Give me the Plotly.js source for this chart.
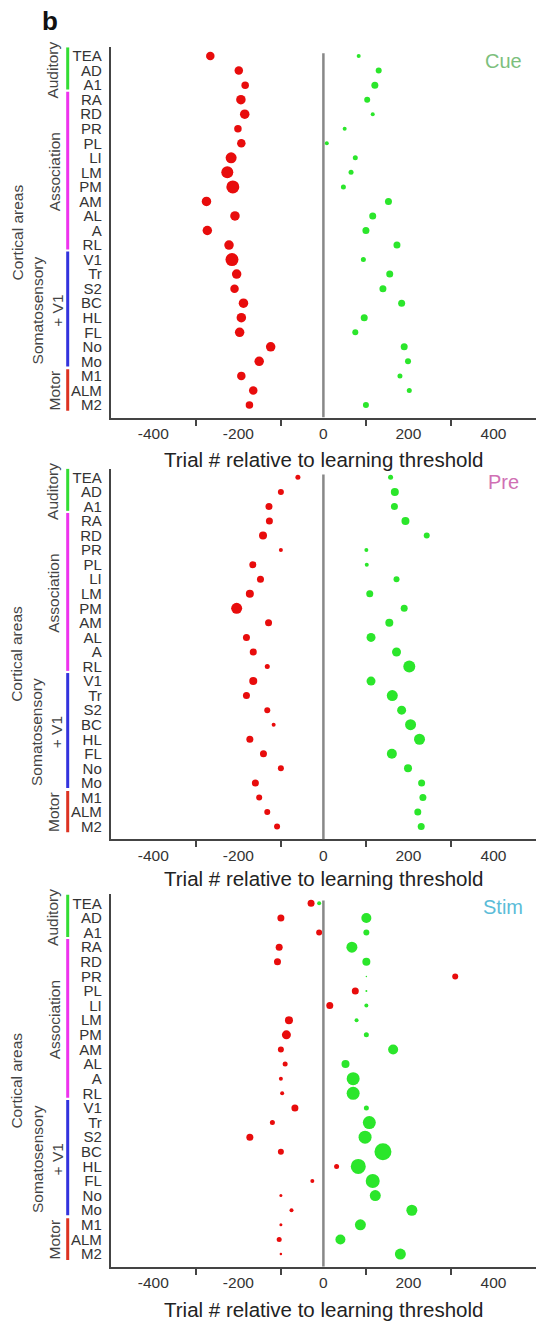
<!DOCTYPE html>
<html>
<head>
<meta charset="utf-8">
<script src="https://cdn.plot.ly/plotly-3.0.1.min.js"></script>
<style>
  html, body { margin: 0; padding: 0; background: #fff; }
  #chart { width: 536px; height: 1322px; }
</style>
</head>
<body>
<div id="chart"></div>
<script>
// ---------- DATA ----------
const areas = ['TEA','AD','A1','RA','RD','PR','PL','LI','LM','PM','AM','AL','A','RL','V1','Tr','S2','BC','HL','FL','No','Mo','M1','ALM','M2'];

// Cue panel
const cueRedX    = [-266,-199,-184,-194,-185,-201,-193,-217,-226,-213,-275,-208,-273,-222,-215,-204,-209,-188,-193,-197,-124,-151,-193,-165,-174];
const cueRedSize = [8.5,8.5,7.5,9.5,9.5,7.5,8.5,11,12,13,9.5,9.5,9.5,9.5,13,9.5,8.5,9.5,9.5,9.5,9.5,9.5,8.5,8.5,7.5];
const cueGreenX    = [83,130,121,103,116,50,8,75,65,47,153,116,100,173,94,156,140,184,96,75,190,199,180,202,100];
const cueGreenSize = [4,6,7,6,4,4,4,5,5,5,7,7,7,7,5,7,7,7,7,6,7,6,5,5,6];

// Pre panel
const preRedX    = [-60,-100,-128,-127,-142,-100,-166,-148,-173,-204,-129,-181,-165,-132,-165,-181,-132,-117,-173,-141,-100,-160,-151,-132,-109];
const preRedSize = [5,6,7,7,8,4,7,7,8,11,7,7,7,5,8,7,6,4,7,7,6,7,6,6,6];
const preGreenX    = [158,168,167,193,243,101,102,172,109,190,155,112,172,202,112,162,184,205,226,161,199,231,234,222,230];
const preGreenSize = [5,8,7,8,6,4,4,6,7,7,8,9,9,12,9,11,9,11,11,10,8,7,7,7,7];

// Stim panel
const stimRedX    = [-29,-100,-10,-104,-108,310,75,15,-81,-87,-100,-90,-100,-97,-67,-120,-173,-100,31,-26,-100,-75,-100,-104,-100];
const stimRedSize = [7,7,6,7,7,6,7,7,8,9,6,5,4,4,7,5,7,6,5,4,3,4,3,5,2.5];
const stimGreenX    = [-10,101,101,67,101,101,101,101,78,101,164,52,70,70,101,108,98,140,82,116,122,208,87,40,181];
const stimGreenSize = [4,10,6,11,8,1.5,2,4,4,5,10,8,13,13,5,13,13,17,15,14,11,11,11,10,11];

const groups = [
  {name: 'Auditory',            from: -0.6, to: 2.3,   center: 1,    color: '#33dd33', x: 53},
  {name: 'Association',         from: 2.45, to: 13.3,  center: 8,    color: '#ee33ee', x: 54},
  {name: 'Somatosensory<br>+ V1', from: 13.45, to: 21.35, center: 17.5, color: '#3333dd', x: 47},
  {name: 'Motor',               from: 21.55, to: 24.4, center: 23,   color: '#dd3322', x: 54}
];

const panels = [
  {label: 'Cue',  labelColor: '#7dbf7d', redX: cueRedX,  redS: cueRedSize,  grX: cueGreenX,  grS: cueGreenSize,  top: 47.2,  bottom: 417.6,  titleY: 459,  labelY: 60.7},
  {label: 'Pre',  labelColor: '#d070b4', redX: preRedX,  redS: preRedSize,  grX: preGreenX,  grS: preGreenSize,  top: 468.5, bottom: 839.2,  titleY: 879,  labelY: 481.7},
  {label: 'Stim', labelColor: '#5bbcd8', redX: stimRedX, redS: stimRedSize, grX: stimGreenX, grS: stimGreenSize, top: 894.4, bottom: 1266.8, titleY: 1309, labelY: 906.7}
];

// ---------- LAYOUT ----------
const W = 536, H = 1322;
const FONT = 'Liberation Sans, Arial, sans-serif';
const RED = '#e80c0c', GREEN = '#2be62b';
const yRange = [24.87, -0.61];

const traces = [];
const layout = {
  width: W, height: H,
  margin: {l: 0, r: 0, t: 0, b: 0},
  paper_bgcolor: '#ffffff', plot_bgcolor: '#ffffff',
  showlegend: false,
  font: {family: FONT, color: '#333'},
  shapes: [], annotations: []
};

panels.forEach((p, i) => {
  const sfx = i === 0 ? '' : String(i + 1);
  const xa = 'x' + sfx, ya = 'y' + sfx;
  traces.push({
    type: 'scatter', mode: 'markers', x: p.redX, y: areas, xaxis: xa, yaxis: ya,
    marker: {color: RED, size: p.redS, opacity: 1, line: {width: 0}}, hoverinfo: 'x+y'
  });
  traces.push({
    type: 'scatter', mode: 'markers', x: p.grX, y: areas, xaxis: xa, yaxis: ya,
    marker: {color: GREEN, size: p.grS, opacity: 1, line: {width: 0}}, hoverinfo: 'x+y'
  });

  layout['xaxis' + sfx] = {
    domain: [110.8 / W, 1], anchor: ya, range: [-500, 500],
    showline: true, linecolor: '#444', linewidth: 2, showgrid: false, zeroline: false,
    tickmode: 'array', tickvals: [-400, -200, 0, 200, 400], ticktext: ['-400', '-200', '0', '200', '400'],
    ticks: 'outside', ticklen: 1, tickcolor: 'rgba(0,0,0,0)',
    minor: {tickmode: 'array', tickvals: [-300, -100, 100, 300], ticks: 'outside', ticklen: 6, tickwidth: 2, tickcolor: '#444', showgrid: false},
    tickfont: {family: FONT, size: 15.5, color: '#333'},
    fixedrange: true
  };
  layout['yaxis' + sfx] = {
    domain: [1 - p.bottom / H, 1 - p.top / H], anchor: xa,
    type: 'category', categoryorder: 'array', categoryarray: areas, range: yRange,
    tickmode: 'array', tickvals: areas, ticktext: areas,
    showline: true, linecolor: '#444', linewidth: 2, showgrid: false, zeroline: false,
    ticks: 'outside', ticklen: 4, tickcolor: 'rgba(0,0,0,0)',
    tickfont: {family: FONT, size: 15, color: '#333'},
    fixedrange: true
  };

  // zero line
  layout.shapes.push({type: 'line', xref: xa, yref: ya, x0: 0, x1: 0, y0: -0.2, y1: yRange[0],
    line: {color: '#888', width: 2.5}});

  // group bars + labels
  groups.forEach(g => {
    layout.shapes.push({type: 'line', xref: 'paper', yref: ya, x0: 67.7 / W, x1: 67.7 / W, y0: g.from, y1: g.to,
      line: {color: g.color, width: 3}});
    layout.annotations.push({xref: 'paper', yref: ya, x: g.x / W, y: g.center, text: g.name, textangle: -90,
      showarrow: false, xanchor: 'center', yanchor: 'middle',
      font: {family: FONT, size: 15.5, color: '#444'}});
  });
  layout.annotations.push({xref: 'paper', yref: ya + ' domain', x: 17 / W, y: 0.5, text: 'Cortical areas', textangle: -90,
    showarrow: false, xanchor: 'center', yanchor: 'middle', font: {family: FONT, size: 15.5, color: '#444'}});

  // panel label
  layout.annotations.push({xref: 'paper', yref: 'paper', x: 503 / W, y: 1 - p.labelY / H, text: p.label,
    showarrow: false, xanchor: 'center', yanchor: 'middle', font: {family: FONT, size: 20, color: p.labelColor}});

  // x-axis title
  layout.annotations.push({xref: xa, yref: 'paper', x: 0, y: 1 - p.titleY / H, text: 'Trial # relative to learning threshold',
    showarrow: false, xanchor: 'center', yanchor: 'middle', font: {family: FONT, size: 20.5, color: '#222'}});
});

layout.annotations.push({xref: 'paper', yref: 'paper', x: 49.6 / W, y: 1 - 20.5 / H, text: '<b>b</b>',
  showarrow: false, xanchor: 'center', yanchor: 'middle', font: {family: FONT, size: 26, color: '#111'}});

Plotly.newPlot('chart', traces, layout, {displayModeBar: false, staticPlot: true});
</script>
</body>
</html>
